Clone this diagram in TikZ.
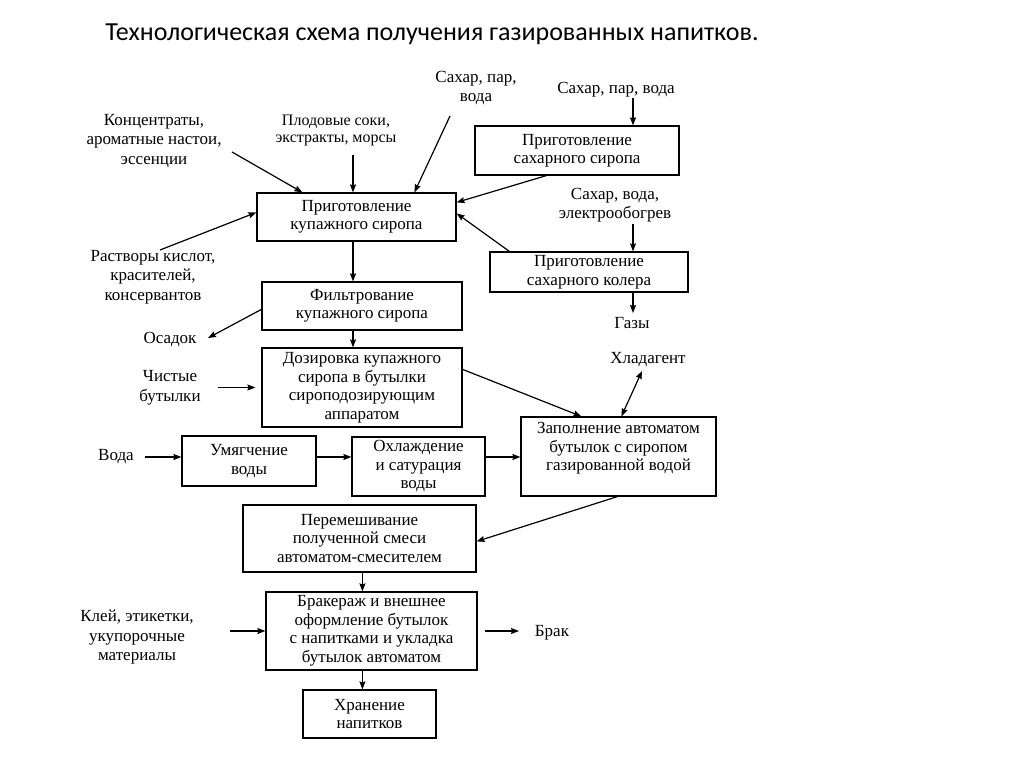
\documentclass[tikz,border=0pt]{standalone}
\usepackage{fontspec}
\setmainfont{Liberation Serif}
\newfontfamily\titlefont{Carlito}
\usetikzlibrary{arrows.meta}
\newcommand\bodyfs{\fontsize{17}{18.5}\selectfont}
\newcommand\lblfs{\fontsize{17}{19.5}\selectfont}
\newcommand\smallfs{\fontsize{16}{17}\selectfont}
\begin{document}
\begin{tikzpicture}[x=1pt,y=-1pt,
  box/.style={draw, line width=1.2pt, align=center, inner sep=1pt, font=\bodyfs},
  lbl/.style={align=center, inner sep=0pt, font=\lblfs},
  arr/.style={line width=1.2pt, -{Stealth[length=8pt,width=6pt,inset=1pt]}},
  darr/.style={line width=1.2pt, {Stealth[length=8pt,width=6pt,inset=1pt]}-{Stealth[length=8pt,width=6pt,inset=1pt]}}]
\fill[white] (0,0) rectangle (1024,767);
\useasboundingbox (0,0) rectangle (1024,767);

% title
\node[inner sep=0pt, font=\titlefont\fontsize{26}{30}\selectfont] (title) at (432,34) {Технологическая схема получения газированных напитков.};

% boxes
\node[box, minimum width=199pt, minimum height=48pt] (b1) at (356.5,217) {Приготовление\\купажного сиропа};
\node[box, minimum width=204pt, minimum height=49pt] (b2) at (577,150.5) {Приготовление\\сахарного сиропа};
\node[box, minimum width=198pt, minimum height=40pt] (b3) at (589,272) {Приготовление\\сахарного колера};
\node[box, minimum width=200pt, minimum height=48pt] (b4) at (362,306) {Фильтрование\\купажного сиропа};
\node[box, minimum width=200pt, minimum height=79pt] (b5) at (362,387.5) {Дозировка купажного\\сиропа в бутылки\\сироподозирующим\\аппаратом};
\node[box, minimum width=195pt, minimum height=79pt, text depth=20pt] (b6) at (618.5,456.5) {Заполнение автоматом\\бутылок с сиропом\\газированной водой};
\node[box, minimum width=134pt, minimum height=50pt] (b7) at (249,461) {Умягчение\\воды};
\node[box, minimum width=133pt, minimum height=59pt] (b8) at (418.5,466.5) {Охлаждение\\и сатурация\\воды};
\node[box, minimum width=233pt, minimum height=67pt] (b9) at (359.5,538.5) {Перемешивание\\полученной смеси\\автоматом-смесителем};
\node[box, minimum width=211pt, minimum height=78pt] (b10) at (371.5,631) {Бракераж и внешнее\\оформление бутылок\\с напитками и укладка\\бутылок автоматом};
\node[box, minimum width=133pt, minimum height=48pt] (b11) at (369.5,714) {Хранение\\напитков};

% labels
\node[lbl] (konc) at (154,141) {Концентраты,\\ароматные настои,\\эссенции};
\node[lbl, font=\smallfs] (plod) at (336,130) {Плодовые соки,\\экстракты, морсы};
\node[lbl] (sah1) at (476,88) {Сахар, пар,\\вода};
\node[lbl] (sah2) at (616,90) {Сахар, пар, вода};
\node[lbl] (sah3) at (615,205) {Сахар, вода,\\электрообогрев};
\node[lbl] (gazy) at (632,323) {Газы};
\node[lbl] (rastv) at (153,277) {Растворы кислот,\\красителей,\\консервантов};
\node[lbl] (osadok) at (170,340) {Осадок};
\node[lbl] (chist) at (170,388) {Чистые\\бутылки};
\node[lbl] (hlad) at (648,360) {Хладагент};
\node[lbl] (voda) at (116,457) {Вода};
\node[lbl] (klej) at (137,637) {Клей, этикетки,\\укупорочные\\материалы};
\node[lbl] (brak) at (552,633) {Брак};

% free ends
\coordinate (konc-e) at (232,152);
\coordinate (plod-e) at (353,155);
\coordinate (sah1-e) at (450,116);
\coordinate (rastv-e) at (160,250);
\coordinate (sah2-e) at (633,98);
\coordinate (sah3-e) at (633,224);
\coordinate (gazy-e) at (633,313);
\coordinate (osadok-e) at (208,338);
\coordinate (chist-e) at (218,387.5);
\coordinate (hlad-e) at (642,371);
\coordinate (voda-e) at (145,457);
\coordinate (klej-e) at (230,631);
\coordinate (brak-e) at (519,631);

% connectors
\draw[arr] (konc-e) -- ([xshift=46pt]b1.north west);
\draw[arr] (plod-e) -- (plod-e |- b1.north);
\draw[arr] (sah1-e) -- ([xshift=158pt]b1.north west);
\draw[arr] (rastv-e) -- ([yshift=-20pt]b1.north west);
\draw[arr] ([xshift=72pt]b2.south west) -- ([yshift=-10pt]b1.north east);
\draw[arr] ([xshift=20pt]b3.north west) -- ([yshift=-21pt]b1.north east);
\draw[arr] (sah2-e) -- (sah2-e |- b2.north);
\draw[arr] (sah3-e) -- (sah3-e |- b3.north);
\draw[arr] (gazy-e |- b3.south) -- (gazy-e);
\draw[arr] (plod-e |- b1.south) -- (plod-e |- b4.north);
\draw[arr] ([yshift=-28pt]b4.north west) -- (osadok-e);
\draw[arr] (plod-e |- b4.south) -- (plod-e |- b5.north);
\draw[arr] (chist-e) -- ([xshift=-6pt]b5.west);
\draw[arr] ([yshift=-22pt]b5.north east) -- ([xshift=61pt]b6.north west);
\draw[darr] (hlad-e) -- ([xshift=101pt]b6.north west);
\draw[arr] (voda-e) -- (voda-e -| b7.west);
\draw[arr] (voda-e -| b7.east) -- (voda-e -| b8.west);
\draw[arr] (voda-e -| b8.east) -- (voda-e -| b6.west);
\draw[arr] ([xshift=97pt]b6.south west) -- ([yshift=-37pt]b9.north east);
\draw[arr] ([xshift=120pt]b9.south west) -- ([xshift=120pt]b9.south west |- b10.north);
\draw[arr] (klej-e) -- (klej-e -| b10.west);
\draw[arr] ([xshift=7pt]klej-e -| b10.east) -- (brak-e);
\draw[arr] ([xshift=97pt]b10.south west) -- ([xshift=97pt]b10.south west |- b11.north);
\end{tikzpicture}
\end{document}
